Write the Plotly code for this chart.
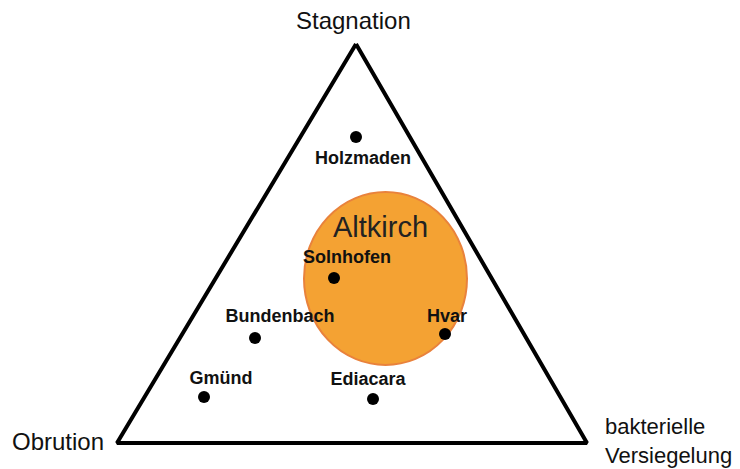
import plotly.graph_objects as go

# Diagram units: x to the right, y downward (0..740 x 0..469)
# Triangle corners: Stagnation (top), Obrution (lower left), bakterielle Versiegelung (lower right)
corner_x = [356, 117, 587, 356]
corner_y = [44, 443, 443, 44]

# Fossil deposits
sites = ["Holzmaden", "Solnhofen", "Hvar", "Bundenbach", "Gmünd", "Ediacara"]
site_x = [356, 334, 445, 255, 204, 373]
site_y = [137, 278, 334, 338, 397, 399]
label_x = [363, 347, 447, 280, 221, 368]
label_y = [159, 258, 317, 317, 379, 380]

# Altkirch field (ellipse bounds)
field_name = "Altkirch"
field_x = [304, 467]
field_y = [192, 365]
field_label = (380, 227)

# Corner captions
corner_labels = ["Stagnation", "Obrution", "bakterielle<br>Versiegelung"]
corner_label_x = [353, 58, 603]
corner_label_y = [20, 441, 441]
corner_label_anchor = ["center", "center", "left"]
corner_label_size = [24, 24, 22]

FONT = "Liberation Sans, Arial, Helvetica, sans-serif"

fig = go.Figure()

fig.add_shape(
    type="circle", xref="x", yref="y",
    x0=field_x[0], x1=field_x[1], y0=field_y[0], y1=field_y[1],
    fillcolor="#F4A233", line=dict(color="#E9823C", width=2), layer="below",
)

fig.add_trace(go.Scatter(
    x=corner_x, y=corner_y, mode="lines",
    line=dict(color="#000000", width=4), hoverinfo="skip",
))

fig.add_trace(go.Scatter(
    x=site_x, y=site_y, mode="markers",
    marker=dict(color="#000000", size=12), hovertext=sites, hoverinfo="text",
))

fig.add_trace(go.Scatter(
    x=label_x, y=label_y, mode="text", text=sites,
    textposition="middle center",
    textfont=dict(family=FONT, size=18, color="#111111", weight="bold"),
    hoverinfo="skip",
))

fig.add_annotation(
    x=field_label[0], y=field_label[1], xref="x", yref="y", text=field_name,
    showarrow=False, font=dict(family=FONT, size=29, color="#222222"),
)

for t, x, y, a, s in zip(corner_labels, corner_label_x, corner_label_y,
                         corner_label_anchor, corner_label_size):
    fig.add_annotation(
        x=x, y=y, xref="x", yref="y", text=t, showarrow=False,
        xanchor=a, align="left",
        font=dict(family=FONT, size=s, color="#111111"),
    )

fig.update_layout(
    width=740, height=469,
    margin=dict(l=0, r=0, t=0, b=0),
    paper_bgcolor="white", plot_bgcolor="white",
    showlegend=False,
    xaxis=dict(range=[0, 740], visible=False, fixedrange=True),
    yaxis=dict(range=[469, 0], visible=False, fixedrange=True),
)

fig.write_html("out.html", config={"displayModeBar": False})
